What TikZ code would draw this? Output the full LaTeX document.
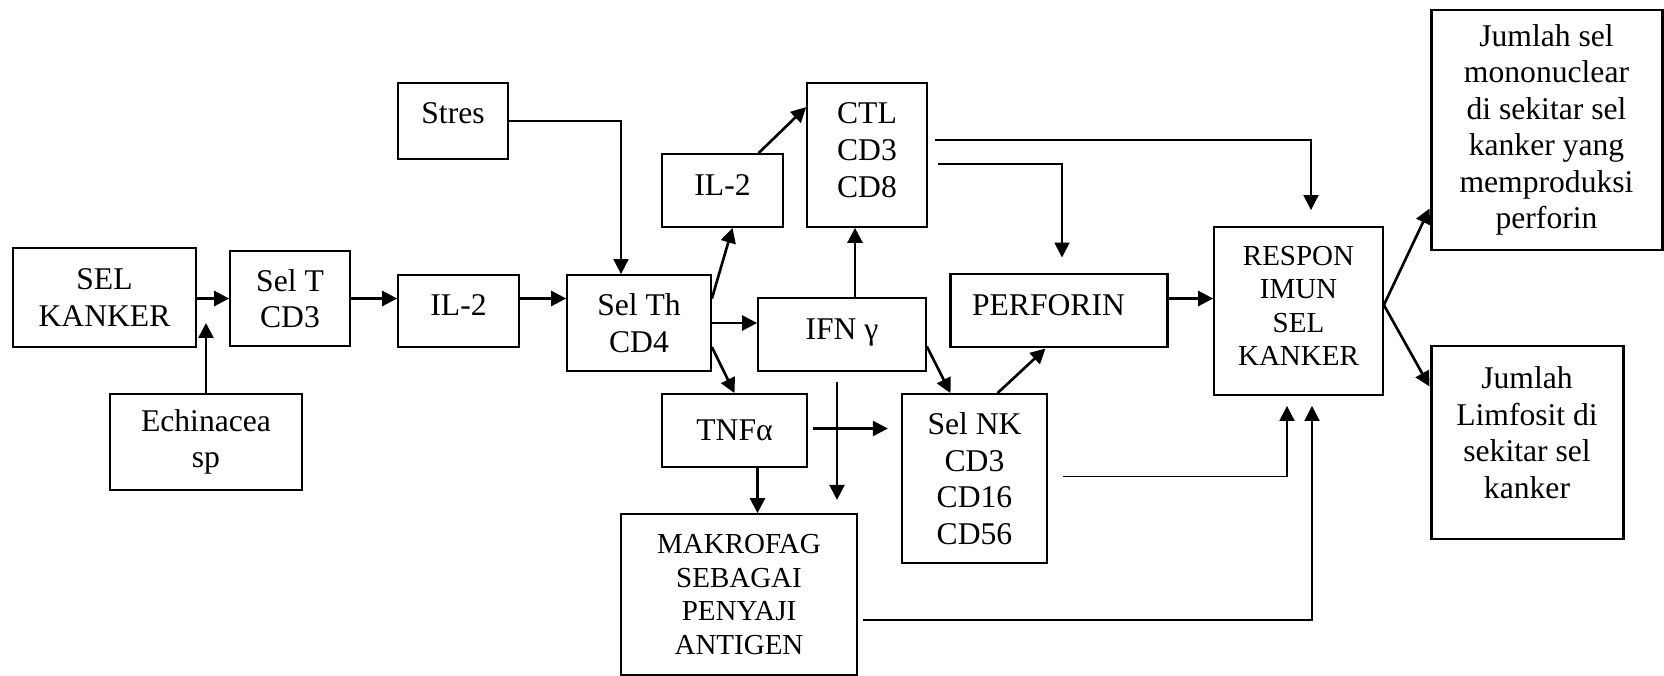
\documentclass[tikz,border=0pt]{standalone}
\usepackage{fontspec}
\setmainfont{Liberation Serif}
\usetikzlibrary{arrows.meta,calc}

\begin{document}
\begin{tikzpicture}[x=0.02cm, y=-0.02cm,
    box/.style={draw, line width=1pt, align=center, inner sep=0pt,
        font=\fontsize{18}{20.8}\selectfont},
    thickbox/.style={box, line width=1.7pt},
    smalltext/.style={font=\fontsize{16.5}{19}\selectfont},
    sz/.style 2 args={minimum width=#1*0.02cm, minimum height=#2*0.02cm},
    lift/.style={text depth=#1},
    arr/.style={-{Triangle[length=8.5pt,width=8.5pt]}, line width=1.5pt},
    tarr/.style={-{Triangle[length=8.5pt,width=8.5pt]}, line width=1pt}]

    % --- ukuran gambar (piksel) ---
    \useasboundingbox (0,0) rectangle (1664,676);

    % --- kotak-kotak ---
    \node[thickbox, sz={183}{99}] (kanker) at (104.5,297.5) {SEL\\KANKER};
    \node[box, sz={120}{95}] (selt) at (290,298.5) {Sel T\\CD3};
    \node[box, sz={192}{96}] (echi) at (206,442) {Echinacea\\sp};
    \node[box, sz={121}{72}, lift=0.24cm] (ilA) at (458.5,311) {IL-2};
    \node[box, sz={110}{76}, lift=0.32cm] (stres) at (453,121) {Stres};
    \node[box, sz={144}{96}] (selth) at (639,323) {Sel Th\\CD4};
    \node[box, sz={121}{73}, lift=0.2cm] (ilB) at (722.5,190.5) {IL-2};
    \node[box, sz={120}{144}, lift=0.2cm] (ctl) at (867,155) {CTL\\CD3\\CD8};
    \node[box, sz={168}{73}, lift=0.2cm] (ifn) at (842,334.5) {IFN γ};
    \node[box, sz={145}{73}] (tnf) at (734.5,430.5) {TNFα};
    \node[box, smalltext, sz={236}{161}] (makro) at (739,594.5) {MAKROFAG\\SEBAGAI\\PENYAJI\\ANTIGEN};
    \node[box, sz={145}{169}] (selnk) at (974.5,478.5) {Sel NK\\CD3\\CD16\\CD56};
    \node[thickbox, sz={217}{73}, lift=0.22cm] (perf) at (1058.5,310.5) {PERFORIN\hspace*{0.4cm}};
    \node[box, smalltext, sz={169}{168}, lift=0.2cm] (respon) at (1298.5,311) {RESPON\\IMUN\\SEL\\KANKER};
    \node[thickbox, sz={231}{240}] (jml1) at (1546.5,130)
        {Jumlah sel\\mononuclear\\di sekitar sel\\kanker yang\\memproduksi\\perforin};
    \node[thickbox, sz={192}{193}, lift=0.4cm] (jml2) at (1527,442.5)
        {Jumlah\\Limfosit di\\sekitar sel\\kanker};

    % --- titik bantu ---
    \coordinate (echitip) at (206,323);
    \coordinate (tnfdown) at ($(tnf.south)+(23,0)$);
    \coordinate (perfout) at ($(perf.east)+(0,-12)$);
    \coordinate (resout) at ($(respon.east)+(0,-6)$);

    % --- alur utama ---
    \draw[arr] (kanker.east |- selt.west) -- (selt.west);
    \draw[arr] (echi.north) -- (echitip);
    \draw[arr] (selt.east) -- (selt.east -| ilA.west);
    \draw[arr] (ilA.east |- selt.east) -- (selth.west |- selt.east);
    \draw[tarr] (stres.east) -| ($(selth.north)+(-18,0)$);

    % --- dari Sel Th ---
    \draw[arr] (selth.east |- selt.east) -- ($(ilB.south)+(10,0)$);
    \draw[arr] ($(ilB.north)+(36,0)$) -- ($(ctl.north west)+(0,25)$);
    \draw[arr] (selth.east) -- (selth.east -| ifn.west);
    \draw[arr] ($(selth.east)+(0,24)$) -- (tnf.north);
    \draw[arr] ($(ifn.north)+(13,0)$) -- ($(ctl.south)+(-12,0)$);
    \draw[arr] ($(ifn.east)+(0,12)$) -- ($(selnk.north)+(-24,0)$);
    \draw[arr] ($(selnk.north)+(23,0)$) -- ($(perf.south)+(-13,0)$);

    % --- panah yang bersilang ---
    \draw[arr] ($(tnf.east)+(5,-2)$) -- ++(75,0);
    \draw[arr] ($(ifn.south)+(-5,10)$) -- ++(0,118);
    \draw[arr] (tnfdown) -- (tnfdown |- makro.north);

    % --- menuju respon imun ---
    \draw[tarr] ($(ctl.east)+(7,-15)$) -| ($(respon.north)+(12.5,-16)$);
    \draw[tarr] ($(ctl.east)+(10,9)$) -| ($(perf.north)+(3.5,-15)$);
    \draw[arr] (perfout) -- (perfout -| respon.west);
    \draw[tarr] ($(selnk.east)+(15,-2)$) -| ($(respon.south)+(-11.5,10)$);
    \draw[tarr] ($(makro.east)+(5,25.5)$) -| ($(respon.south)+(13.5,10)$);

    % --- hasil ---
    \draw[arr] (resout) -- ($(jml1.south west)+(0,-43)$);
    \draw[arr] (resout) -- ($(jml2.north west)+(0,42)$);

\end{tikzpicture}
\end{document}
